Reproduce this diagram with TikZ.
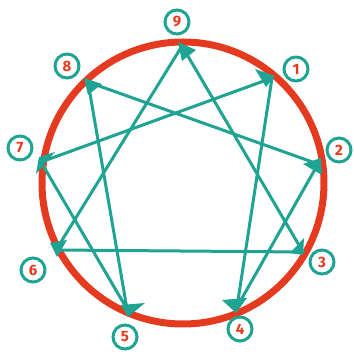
\documentclass[tikz,border=0pt]{standalone}
\usepackage{fontspec}
\setmainfont{Fira Sans}
\definecolor{ered}{HTML}{E43A1F}
\definecolor{eteal}{HTML}{1FA393}
\tikzset{
  ring/.style={draw=ered,line width=7pt},
  edge/.style={draw=eteal,line width=3pt},
  head/.style={fill=eteal},
  lbl/.style={circle,draw=eteal,line width=3pt,text=ered,minimum size=24pt,inner sep=0pt,font=\fontsize{15}{15}\selectfont\bfseries}
}
\begin{document}
\begin{tikzpicture}[x=1pt,y=-1pt]
\useasboundingbox (0,0) rectangle (354,352);
\coordinate (c) at (183,183);
\draw[ring] (c) circle (141);
\coordinate (p9) at (182,46);
\coordinate (p1) at (272,78);
\coordinate (p2) at (318,164);
\coordinate (p3) at (303,252);
\coordinate (p4) at (237,307);
\coordinate (p5) at (127,309);
\coordinate (p6) at (56,250);
\coordinate (p7) at (41,162);
\coordinate (p8) at (88,82);
\draw[edge,line join=round] (p9) -- (p3) -- (p6) -- cycle;
\draw[edge,line join=round] (p1) -- (p4) -- (p2) -- (p8) -- (p5) -- (p7) -- cycle;
\fill[head] (178,42) -- (196,50) -- (182,61) -- cycle;
\fill[head] (255,69) -- (275,76) -- (266,87) -- cycle;
\fill[head] (303,164) -- (321,158) -- (322,175) -- cycle;
\fill[head] (304,238) -- (303,255) -- (290,253) -- cycle;
\fill[head] (222,300) -- (247,298) -- (236,313) -- cycle;
\fill[head] (121,305) -- (145,303) -- (128,317) -- cycle;
\fill[head] (50,243) -- (67,240) -- (57,257) -- cycle;
\fill[head] (39,157) -- (55,152) -- (36,174) -- cycle;
\fill[head] (84,78) -- (102,84) -- (88,95) -- cycle;
\node[lbl] (l9) at (177,22) {9};
\node[lbl] (l1) at (296,69) {1};
\node[lbl] (l2) at (339,150) {2};
\node[lbl] (l3) at (322,262) {3};
\node[lbl] (l4) at (240,329) {4};
\node[lbl] (l5) at (125,337) {5};
\node[lbl] (l6) at (33,270) {6};
\node[lbl] (l7) at (20,148) {7};
\node[lbl] (l8) at (67,66) {8};
\end{tikzpicture}
\end{document}
